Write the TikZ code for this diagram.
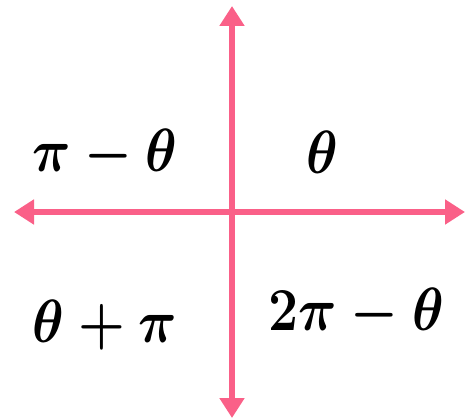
\documentclass[tikz,border=0pt]{standalone}
\usepackage{graphicx}
\usetikzlibrary{arrows.meta}
\definecolor{axispink}{RGB}{250,96,136}
\newcommand{\quadtext}[1]{\scalebox{2.15}[2.45]{\Huge\boldmath$#1$}}
\begin{document}
\begin{tikzpicture}[x=1pt,y=-1pt,line join=round,
    axis/.style={axispink,line width=5.5pt,-{Triangle[length=20pt,width=24pt]}},
    quad/.style={inner sep=0pt}]
  \useasboundingbox (0,0) rectangle (466,420);
  \path (232,212) coordinate (O)
    (14,212) coordinate (W) (465,212) coordinate (E)
    (232,6) coordinate (N) (232,418) coordinate (S);
  \draw[axis] (O)--(W);
  \draw[axis] (O)--(E);
  \draw[axis] (O)--(N);
  \draw[axis] (O)--(S);
  % labels of the four quadrants
  \node[quad] (q1) at (322,152) {\quadtext{\theta}};
  \node[quad] (q2) at (105,154) {\quadtext{\pi-\theta}};
  \node[quad] (q3) at (105,325) {\quadtext{\theta+\pi}};
  \node[quad] (q4) at (356,313) {\quadtext{2\pi-\theta}};
\end{tikzpicture}
\end{document}
